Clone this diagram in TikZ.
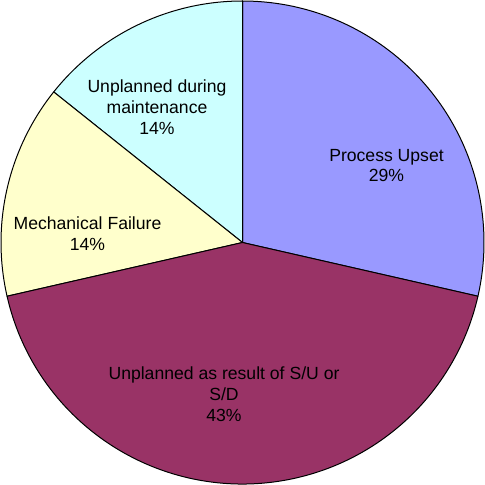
\documentclass[tikz,border=0pt]{standalone}
\usepackage{fontspec}
\setmainfont{Liberation Sans}
\definecolor{cUpset}{HTML}{9999FF}
\definecolor{cSU}{HTML}{993366}
\definecolor{cMech}{HTML}{FFFFCC}
\definecolor{cMaint}{HTML}{CCFFFF}
\tikzset{
  slice/.style={draw=black, line width=1pt, line join=round},
  lbl/.style={align=center, inner sep=0pt, font=\fontsize{17.6}{20.8}\selectfont}
}
\begin{document}
\begin{tikzpicture}[x=1pt,y=1pt]
\useasboundingbox (0,0) rectangle (485,485);
\coordinate (c) at (242.5,242.5);
\def\R{241.5}
\draw[slice, fill=cUpset] (c) -- ++(-12.857:\R) arc[start angle=-12.857, end angle=90, radius=\R] -- cycle;
\draw[slice, fill=cMaint] (c) -- ++(90:\R) arc[start angle=90, end angle=141.429, radius=\R] -- cycle;
\draw[slice, fill=cMech] (c) -- ++(141.429:\R) arc[start angle=141.429, end angle=192.857, radius=\R] -- cycle;
\draw[slice, fill=cSU] (c) -- ++(192.857:\R) arc[start angle=192.857, end angle=347.143, radius=\R] -- cycle;
\node[lbl] (lUpset) at (386.5,319.5) {Process Upset\\29\%};
\node[lbl] (lMaint) at (157,378) {Unplanned during\\maintenance\\14\%};
\node[lbl] (lMech) at (87.5,251.5) {Mechanical Failure\\14\%};
\node[lbl] (lSU) at (224,91) {Unplanned as result of S/U or\\S/D\\43\%};
\end{tikzpicture}
\end{document}
